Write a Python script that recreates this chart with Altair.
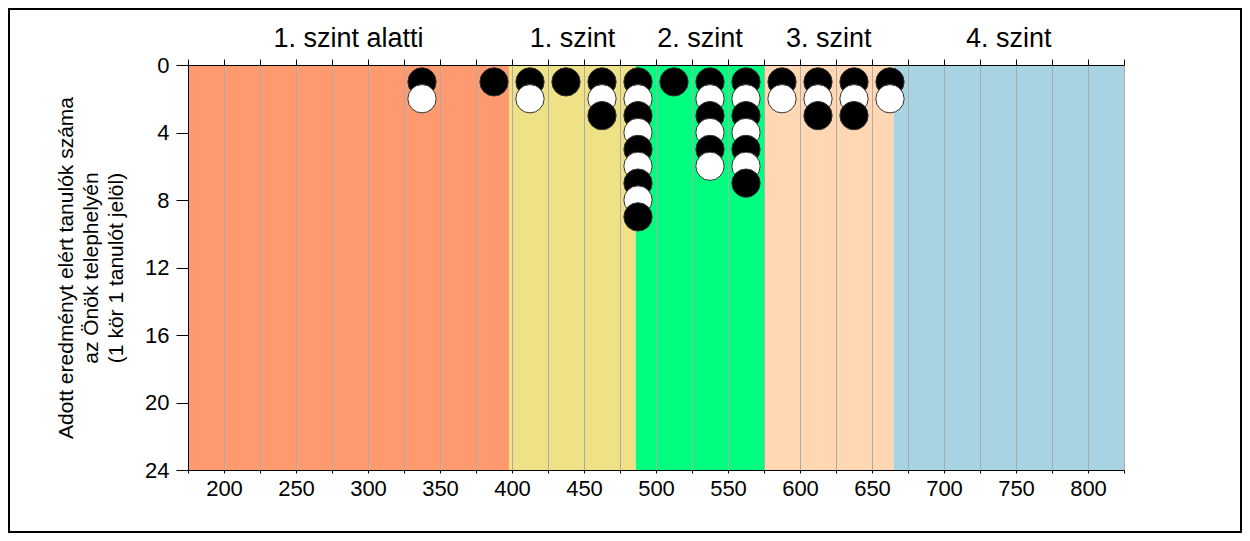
import altair as alt
import pandas as pd

# ---- data ----
band_names = ["1. szint alatti", "1. szint", "2. szint", "3. szint", "4. szint"]
band_lo = [175, 398, 486, 575, 665]
band_hi = [398, 486, 575, 665, 825]
band_palette = ["#FF9A70", "#EEE186", "#00FF7F", "#FFD8B3", "#A7D3E3"]

col_scores = [337.5, 387.5, 412.5, 437.5, 462.5, 487.5, 512.5, 537.5, 562.5, 587.5, 612.5, 637.5, 662.5]
col_counts = [2, 1, 2, 1, 3, 9, 1, 6, 7, 2, 3, 3, 2]

x_ticks = list(range(175, 826, 25))
y_ticks = [0, 4, 8, 12, 16, 20, 24]

y_title = ["Adott eredményt elért tanulók száma", "az Önök telephelyén", "(1 kör 1 tanulót jelöl)"]

FONT = "Liberation Sans"

# ---- tables ----
bands = pd.DataFrame({"name": band_names, "lo": band_lo, "hi": band_hi})
bands["mid"] = (bands["lo"] + bands["hi"]) / 2

rows = []
for s, n in zip(col_scores, col_counts):
    for k in range(1, n + 1):
        rows.append({"score": s, "rank": k, "kind": "odd" if k % 2 else "even"})
dots = pd.DataFrame(rows)

xscale = alt.Scale(domain=[175, 825], nice=False, zero=False)
yscale = alt.Scale(domain=[0, 24], reverse=True, nice=False, zero=False)

bottom_axis = alt.Axis(
    orient="bottom", values=x_ticks,
    labelExpr="datum.value % 50 == 0 ? datum.label : ''",
    grid=True, gridColor="#ABABAB", gridWidth=1,
    domainColor="black", tickColor="black", tickSize=3,
    labelFontSize=22, labelFont=FONT, labelColor="black", labelPadding=5,
    labelOverlap=False, labelFlush=False, title=None, zindex=1,
)
top_axis = alt.Axis(
    orient="top", values=x_ticks, labels=False, grid=False,
    domainColor="black", tickColor="black", tickSize=6, title=None, zindex=1,
)
y_axis = alt.Axis(
    values=y_ticks, grid=False, domainColor="black", tickColor="black", tickSize=12,
    labelFontSize=22, labelFont=FONT, labelColor="black", labelPadding=7,
    title=y_title, titleFont=FONT, titleFontSize=21, titleFontWeight="normal",
    titleColor="black", titleAngle=270, titleX=-122, titleY=202.5,
    titleAlign="center", titleBaseline="middle", titleLineHeight=25, zindex=1,
)

band_layer = alt.Chart(bands).mark_rect().encode(
    x=alt.X("lo:Q", scale=xscale, axis=bottom_axis),
    x2="hi:Q",
    color=alt.Color("name:N", scale=alt.Scale(domain=band_names, range=band_palette), legend=None),
)

label_layer = alt.Chart(bands).mark_text(
    font=FONT, fontSize=27, baseline="alphabetic", align="center", color="black"
).encode(
    x=alt.X("mid:Q", scale=xscale, axis=top_axis),
    y=alt.value(-18),
    text="name:N",
)

dot_layer = alt.Chart(dots).mark_circle(
    size=800, opacity=1, stroke="#333333", strokeWidth=1
).encode(
    x=alt.X("score:Q", scale=xscale, axis=None),
    y=alt.Y("rank:Q", scale=yscale, axis=y_axis),
    color=alt.Color("kind:N", scale=alt.Scale(domain=["odd", "even"], range=["#000000", "#FFFFFF"]), legend=None),
)

frame = alt.Chart(alt.Data(values=[{}])).mark_rect(
    fill="transparent", stroke="black", strokeWidth=2
).encode(
    x=alt.value(-179), x2=alt.value(1053), y=alt.value(-56), y2=alt.value(467)
)

chart = alt.layer(band_layer, label_layer, dot_layer, frame).resolve_axis(
    x="independent"
).resolve_scale(color="independent").properties(
    width=936, height=405,
    autosize=alt.AutoSizeParams(type="none"),
    padding={"left": 180, "top": 57, "right": 118, "bottom": 63},
    background="white",
).configure_view(stroke="transparent")

chart.save("out.html", embed_options={"renderer": "svg", "actions": False})
